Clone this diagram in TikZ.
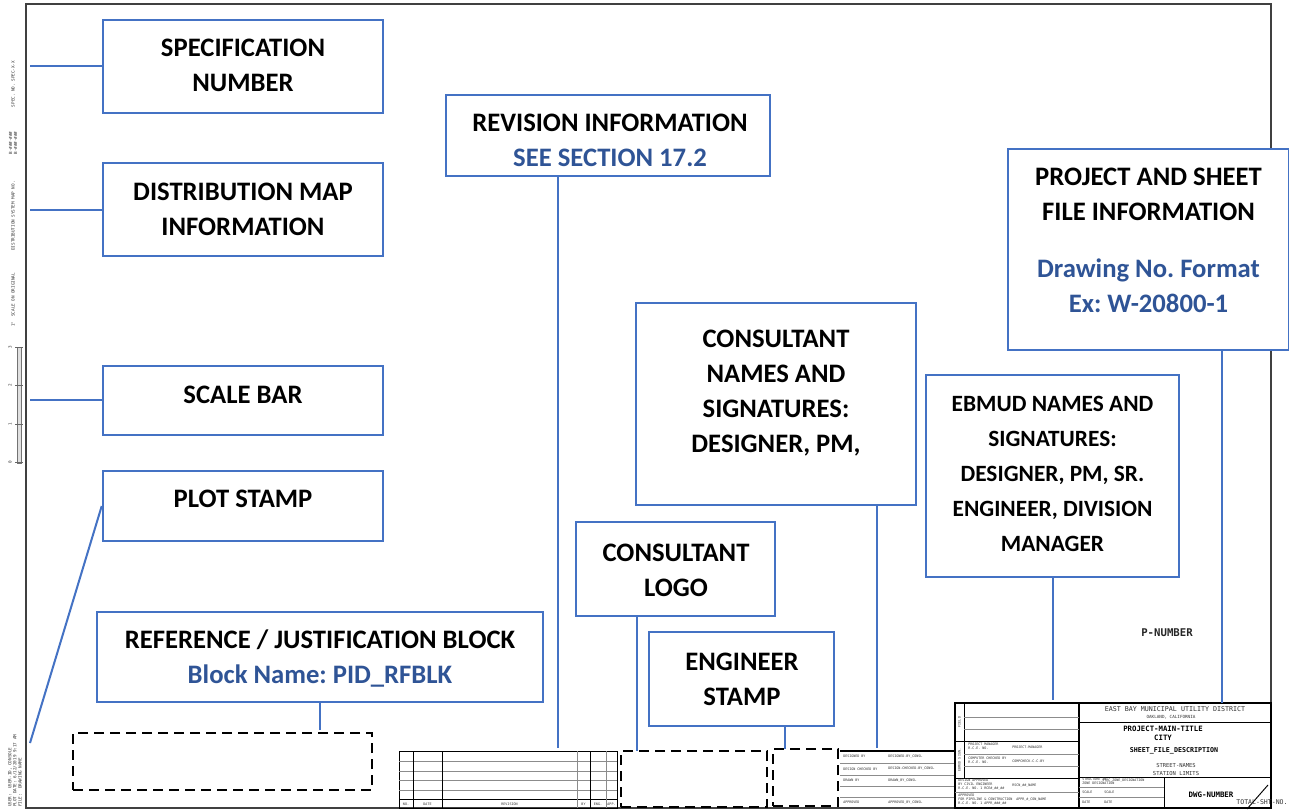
\documentclass[tikz,border=0pt]{standalone}
\usepackage{fontspec}
\setmainfont{Carlito}
\newfontfamily\cadfont{DejaVu Sans Mono}
\usetikzlibrary{fit}
\definecolor{boxblue}{RGB}{68,114,196}
\definecolor{txtblue}{RGB}{47,84,150}
\frenchspacing
\begin{document}
\begin{tikzpicture}[x=0.75pt,y=-0.75pt,
  callout/.style={draw=boxblue, line width=1.9pt, fill=white, inner sep=0pt},
  ctext/.style={font={\bfseries\fontsize{20}{26.25}\selectfont}, align=center, inner sep=0pt, text=black},
  ctextsmall/.style={font={\bfseries\fontsize{17.5}{26.25}\selectfont}, align=center, inner sep=0pt, text=black},
  conn/.style={draw=boxblue, line width=1.5pt},
  dashbox/.style={draw=black, line width=1.7pt, dash pattern=on 7.5pt off 4.5pt, inner sep=0pt},
  framestyle/.style={draw=black!75, line width=1.3pt},
  grule/.style={draw=black!45, line width=0.4pt},
  drule/.style={draw=black, line width=0.6pt},
  cadt/.style={font={\cadfont\fontsize{3.2}{3.8}\selectfont}, inner sep=0pt, text=black!80},
  cadtiny/.style={font={\cadfont\fontsize{2.5}{3}\selectfont}, inner sep=0pt, text=black!80},
  tabbox/.style={inner sep=0pt}
]
\useasboundingbox (0,0) rectangle (1289,810);
\fill[white] (0,0) rectangle (1289,810);

% sheet frame
\node[tabbox, framestyle, fit={(26,4)(1271,808)}] (frame) {};

% ---------- left margin texts ----------
\node[cadt, rotate=90] (specno) at (13,84) {SPEC. NO. SPEC-X-X};
\node[cadt, rotate=90, align=center] (mapno) at (13,143) {B-\#\#\#-\#\#\#\\B-\#\#\#-\#\#\#};
\node[cadt, rotate=90] (distno) at (13,216) {DISTRIBUTION SYSTEM MAP NO.};
\node[cadt, rotate=90] (scaleorig) at (13,300) {1" \ SCALE ON ORIGINAL};
% scale bar
\node[tabbox, fill=black!12, draw=black!55, line width=0.5pt, fit={(17,347)(21,463)}] (sbar) {};
\foreach \yy/\lab in {347/3,385.5/2,424/1,462.5/0}{
  \draw[black!60, line width=0.5pt] (15,\yy) -- (23,\yy);
  \node[cadt, rotate=90] at (10,\yy) {\lab};
}
% plot stamp text
\node[cadt, rotate=90, anchor=west] (ps1) at (10,807) {USER: \ USER-ID, CONSOLE};
\node[cadt, rotate=90, anchor=west] (ps2) at (15,807) {PLOT DATE: 6/12/2019 9:17 AM};
\node[cadt, rotate=90, anchor=west] (ps3) at (20,807) {FILE: \ DRAWING NAME};

% ---------- revision table ----------
\node[tabbox, drule, fit={(399,751)(617,808)}] (revtab) {};
\foreach \yy in {761,771,780,790}{\draw[grule] (399,\yy) -- (617,\yy);}
\draw[drule] (399,799) -- (617,799);
\foreach \xx in {413,442,590}{\draw[drule] (\xx,751) -- (\xx,808);}
\foreach \xx in {577,606}{\draw[grule] (\xx,751) -- (\xx,808);}
\node[cadtiny] at (406,804) {NO.};
\node[cadtiny] at (427.5,804) {DATE};
\node[cadtiny] at (509.5,804) {REVISION};
\node[cadtiny] at (583.5,804) {BY};
\node[cadtiny] at (598,804) {ENG.};
\node[cadtiny] at (611.5,804) {APP.};

% ---------- consultant signature table ----------
\draw[black, line width=1pt] (840,751) -- (955,751);
\foreach \yy in {763,775,786,797}{\draw[grule] (840,\yy) -- (955,\yy);}
\node[cadtiny, anchor=west] at (843,756.5) {DESIGNED BY};
\node[cadtiny, anchor=west] at (888,756.5) {DESIGNED-BY\_CONSL};
\node[cadtiny, anchor=west] at (843,769) {DESIGN CHECKED BY};
\node[cadtiny, anchor=west] at (888,769) {DESIGN-CHECKED-BY\_CONSL};
\node[cadtiny, anchor=west] at (843,780.5) {DRAWN BY};
\node[cadtiny, anchor=west] at (888,780.5) {DRAWN\_BY\_CONSL};
\node[cadtiny, anchor=west] at (843,802.5) {APPROVED};
\node[cadtiny, anchor=west] at (888,802.5) {APPROVED\_BY\_CONSL};

% ---------- title block ----------
\node[tabbox, draw=black, line width=0.8pt, fit={(955,703)(1271,808)}] (tblock) {};
\draw[black, line width=0.8pt] (1079,703) -- (1079,808);
% left part
\draw[drule] (964,703) -- (964,778);
\foreach \yy in {717,729,754,766,792}{\draw[grule] (964,\yy) -- (1079,\yy);}
\draw[grule] (955,792) -- (1079,792);
\draw[drule] (955,741) -- (1079,741);
\draw[drule] (955,778) -- (1079,778);
\node[cadtiny, rotate=90] at (959.5,722) {FIELD};
\node[cadtiny, rotate=90] at (959.5,760) {EBMUD SIGN.};
\node[cadtiny, anchor=west, align=left] at (968,746) {PROJECT MANAGER\\R.C.E. NO.};
\node[cadtiny, anchor=west] at (1012,747) {PROJECT-MANAGER};
\node[cadtiny, anchor=west, align=left] at (968,760) {COMPUTER CHECKED BY\\R.C.E. NO.};
\node[cadtiny, anchor=west] at (1012,761) {COMPCHECK-C-C-BY};
\node[cadtiny, anchor=west, align=left] at (958,785) {DESIGN APPROVED\\BY CIVIL ENGINEER\\R.C.E. NO. 1 RCE\#\_\#\#\_\#\#};
\node[cadtiny, anchor=west] at (1012,785.5) {RSCN\_\#\#\_NAME};
\node[cadtiny, anchor=west, align=left] at (958,800) {APPROVED\\FOR PIPELINE \& CONSTRUCTION\\R.C.E. NO. 1 APPR\_\#\#\#\_\#\#};
\node[cadtiny, anchor=west] at (1016,800) {APPR\_\#\_CON\_NAME};
% right part
\draw[drule] (1079,722) -- (1271,722);
\draw[drule] (1079,777) -- (1271,777);
\draw[drule] (1164,777) -- (1164,808);
\draw[grule] (1079,787) -- (1164,787);
\draw[grule] (1079,797) -- (1164,797);
\node[font={\cadfont\fontsize{5}{6}\selectfont}, inner sep=0pt, text=black!80] (ebmud-name) at (1175,709.5) {EAST BAY MUNICIPAL UTILITY DISTRICT};
\node[font={\cadfont\fontsize{3.2}{4}\selectfont}, inner sep=0pt, text=black!80] (oakland) at (1171,717) {OAKLAND, CALIFORNIA};
\node[font={\cadfont\bfseries\fontsize{5.5}{7}\selectfont}, inner sep=0pt, align=center] (ptitle) at (1163,733) {PROJECT-MAIN-TITLE\\CITY};
\node[font={\cadfont\bfseries\fontsize{5}{6}\selectfont}, inner sep=0pt] (sfd) at (1174,750.5) {SHEET\_FILE\_DESCRIPTION};
\node[font={\cadfont\fontsize{4.1}{6.2}\selectfont}, inner sep=0pt, align=center, text=black!80] (streets) at (1176,769.5) {STREET-NAMES\\STATION LIMITS};
\node[cadtiny, anchor=west, align=left] at (1082,781.5) {STRUCTURE ID\\ZONE DESIGNATION};
\node[cadtiny, anchor=west] at (1102,781) {STRC\_ZONE\_DESIGNATION};
\node[cadtiny, anchor=west] at (1082,792) {SCALE};
\node[cadtiny, anchor=west] at (1104,792) {SCALE};
\node[cadtiny, anchor=west] at (1082,802.5) {DATE};
\node[cadtiny, anchor=west] at (1104,802.5) {DATE};
\node[font={\cadfont\bfseries\fontsize{5.6}{7}\selectfont}, inner sep=0pt] (dwg) at (1211,795) {DWG-NUMBER};
\coordinate (slashA) at (1247,809);
\coordinate (slashB) at (1268,785);
\draw[black, line width=0.7pt] (slashA) -- (slashB);
\node[font={\cadfont\fontsize{4.9}{6}\selectfont}, inner sep=0pt, text=black!80] (totsht) at (1262,802.5) {TOTAL-SHT-NO.};
\node[font={\cadfont\bfseries\fontsize{8}{9}\selectfont}, inner sep=0pt, text=black!85] (pnum) at (1167,632.5) {P-NUMBER};

% ---------- dashed placeholders ----------
\node[dashbox, fit={(73,733)(372,790)}] (refdash) {};
\node[dashbox, fit={(621,751)(767,807)}] (logodash) {};
\node[dashbox, fit={(773,749)(838,806)}] (stampdash) {};

% ---------- callout boxes ----------
\node[callout, fit={(103,20)(383,113)}] (spec) {};
\node[ctext] (spec-t) at (243,65.5) {SPECIFICATION\\NUMBER};
\node[callout, fit={(103,163)(383,256)}] (dist) {};
\node[ctext] (dist-t) at (243,209.5) {DISTRIBUTION MAP\\INFORMATION};
\node[callout, fit={(103,366)(383,435)}] (scale) {};
\node[ctext] (scale-t) at (243,395) {SCALE BAR};
\node[callout, fit={(103,471)(383,541)}] (plot) {};
\node[ctext] (plot-t) at (243,499) {PLOT STAMP};
\node[callout, fit={(97,612)(543,702)}] (ref) {};
\node[ctext] (ref-t) at (320,658.5) {REFERENCE / JUSTIFICATION BLOCK\\{\color{txtblue}Block Name: PID\_RFBLK}};
\node[callout, fit={(446,95)(770,176)}] (rev) {};
\node[ctext] (rev-t) at (610,140.5) {REVISION INFORMATION\\{\color{txtblue}SEE SECTION 17.2}};
\node[callout, fit={(636,303)(916,505)}] (cons) {};
\node[ctext] (cons-t) at (776,393.5) {CONSULTANT\\NAMES AND\\SIGNATURES:\\DESIGNER, PM,};
\node[callout, fit={(576,522)(775,616)}] (logo) {};
\node[ctext] (logo-t) at (676,570) {CONSULTANT\\LOGO};
\node[callout, fit={(649,632)(834,726)}] (eng) {};
\node[ctext] (eng-t) at (742,679.5) {ENGINEER\\STAMP};
\node[callout, fit={(926,375)(1179,577)}] (ebmud) {};
\node[ctextsmall] (ebmud-t) at (1052.5,474) {EBMUD NAMES AND\\SIGNATURES:\\DESIGNER, PM, SR.\\ENGINEER, DIVISION\\MANAGER};
\node[callout, fit={(1008,149)(1289,350)}] (proj) {};
\node[ctext] (proj-t) at (1148.5,194) {PROJECT AND SHEET\\FILE INFORMATION};
\node[ctext, text=txtblue] (proj-b) at (1148.5,285.5) {Drawing No. Format\\Ex: W-20800-1};

% ---------- connectors ----------
\coordinate (specend) at (30,66);
\coordinate (distend) at (30,210);
\coordinate (scaleend) at (30,400);
\coordinate (plotend) at (30,743);
\coordinate (refend) at (320,730);
\coordinate (revend) at (558,748);
\coordinate (consend) at (877,748);
\coordinate (logoend) at (637,751);
\coordinate (engend) at (785,749);
\coordinate (ebmudend) at (1052.5,700);
\coordinate (projend) at (1222,703);
\draw[conn] (specend) -- (specend -| spec.west);
\draw[conn] (distend) -- (distend -| dist.west);
\draw[conn] (scaleend) -- (scaleend -| scale.west);
\draw[conn] (plotend) -- (plot.west);
\draw[conn] (ref.south) -- (refend);
\draw[conn] (rev.south -| revend) -- (revend);
\draw[conn] (cons.south -| consend) -- (consend);
\draw[conn] (logo.south -| logoend) -- (logoend);
\draw[conn] (eng.south -| engend) -- (engend);
\draw[conn] (ebmud.south) -- (ebmudend);
\draw[conn] (proj.south -| projend) -- (projend);
\end{tikzpicture}
\end{document}
